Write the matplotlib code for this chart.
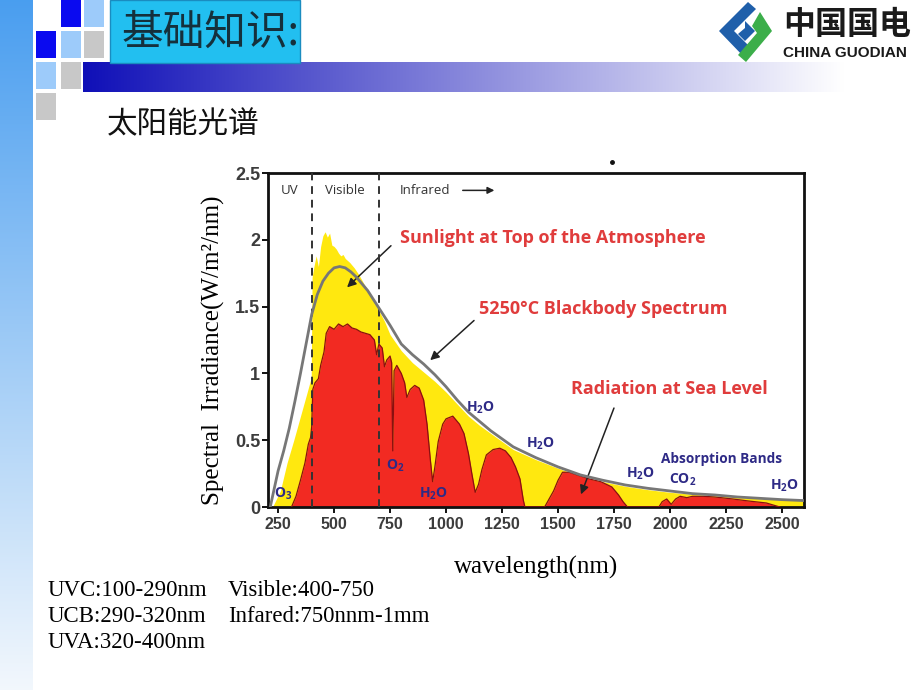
import numpy as np
import matplotlib
matplotlib.use("Agg")
import matplotlib.pyplot as plt
from matplotlib.patches import Rectangle, Polygon

plt.rcParams["mathtext.fontset"] = "custom"
plt.rcParams["mathtext.rm"] = "Open Sans:bold"
plt.rcParams["mathtext.bf"] = "Open Sans:bold"
plt.rcParams["mathtext.it"] = "Open Sans:bold"

# ── Data ─────────────────────────────────────────────────────────────
toa_wl = [225, 260, 290, 320, 350, 380, 398, 402, 410, 420, 430, 440, 450, 460,
          470, 480, 490, 500, 510, 520, 530, 540, 550, 570, 590, 610, 630, 650,
          675, 700, 725, 750, 800, 850, 900, 950, 1000, 1050, 1100, 1150, 1200,
          1250, 1300, 1400, 1500, 1600, 1700, 1800, 1900, 2000, 2100, 2200,
          2300, 2400, 2500, 2600]
toa_val = [0.0, 0.12, 0.33, 0.50, 0.68, 0.86, 0.97, 1.72, 1.80, 1.88, 1.80, 1.95,
           2.03, 2.06, 2.02, 2.05, 1.96, 1.95, 1.93, 1.90, 1.88, 1.89, 1.86,
           1.83, 1.79, 1.74, 1.68, 1.62, 1.55, 1.47, 1.39, 1.29, 1.17, 1.08,
           1.01, 0.94, 0.86, 0.77, 0.68, 0.61, 0.55, 0.49, 0.43, 0.355, 0.29,
           0.23, 0.19, 0.155, 0.13, 0.11, 0.095, 0.085, 0.072, 0.062, 0.053, 0.046]

sea_wl = [310, 330, 350, 370, 385, 395, 400, 405, 415, 430, 440, 455, 465, 480,
          500, 520, 540, 560, 580, 600, 620, 640, 660, 680, 690, 700, 715, 725,
          735, 750, 757, 762, 768, 780, 800, 815, 825, 840, 860, 880, 900, 915,
          930, 940, 950, 965, 985, 1000, 1030, 1060, 1080, 1100, 1115, 1130,
          1145, 1160, 1180, 1210, 1240, 1265, 1290, 1310, 1330, 1345, 1352,
          1440, 1460, 1480, 1500, 1520, 1550, 1585, 1640, 1690, 1740, 1770,
          1790, 1810, 1950, 1965, 1985, 2005, 2025, 2045, 2075, 2100, 2150,
          2200, 2280, 2350, 2430, 2490]
sea_val = [0.0, 0.08, 0.20, 0.33, 0.47, 0.52, 0.60, 0.88, 0.93, 0.96, 1.06, 1.16,
           1.30, 1.35, 1.33, 1.37, 1.35, 1.37, 1.34, 1.33, 1.31, 1.30, 1.29,
           1.25, 1.14, 1.22, 1.19, 1.05, 1.10, 1.13, 1.08, 0.42, 1.02, 1.06,
           1.00, 0.93, 0.82, 0.88, 0.91, 0.89, 0.80, 0.62, 0.35, 0.19, 0.30,
           0.49, 0.62, 0.66, 0.68, 0.62, 0.55, 0.40, 0.25, 0.11, 0.17, 0.28,
           0.39, 0.43, 0.44, 0.42, 0.37, 0.30, 0.21, 0.05, 0.0, 0.0, 0.06,
           0.12, 0.20, 0.26, 0.26, 0.24, 0.21, 0.19, 0.15, 0.09, 0.04, 0.0,
           0.0, 0.04, 0.06, 0.02, 0.06, 0.08, 0.07, 0.08, 0.08, 0.075, 0.06,
           0.045, 0.03, 0.0]

bb_wl = [215, 250, 275, 300, 325, 350, 375, 400, 425, 450, 475, 500, 525, 550,
         575, 600, 650, 700, 750, 800, 850, 900, 950, 1000, 1050, 1100, 1150,
         1200, 1250, 1300, 1400, 1500, 1600, 1700, 1800, 1900, 2000, 2100,
         2200, 2300, 2400, 2500, 2600]
bb_val = [0.0, 0.27, 0.42, 0.59, 0.79, 1.00, 1.22, 1.44, 1.59, 1.69, 1.75, 1.79,
          1.80, 1.79, 1.76, 1.72, 1.62, 1.49, 1.36, 1.22, 1.14, 1.07, 0.99,
          0.90, 0.80, 0.71, 0.64, 0.57, 0.51, 0.45, 0.37, 0.30, 0.24, 0.20,
          0.165, 0.14, 0.12, 0.10, 0.09, 0.075, 0.065, 0.055, 0.048]

region_edges = [400, 700]
x_ticks = [250, 500, 750, 1000, 1250, 1500, 1750, 2000, 2250, 2500]
y_ticks = [0, 0.5, 1, 1.5, 2, 2.5]
y_tick_labels = ["0", "0.5", "1", "1.5", "2", "2.5"]

notes_left = ["UVC:100-290nm", "UCB:290-320nm", "UVA:320-400nm"]
notes_right = ["Visible:400-750", "Infared:750nnm-1mm"]

# ── Figure and slide background ──────────────────────────────────────
fig = plt.figure(figsize=(9.2, 6.9), dpi=100)
bg = fig.add_axes([0, 0, 1, 1], zorder=0)
bg.set_xlim(0, 920)
bg.set_ylim(690, 0)
bg.axis("off")

# left vertical gradient band
top_c = np.array([0.29, 0.62, 0.94])
bot_c = np.array([0.95, 0.97, 0.99])
t = np.linspace(0, 1, 256)[:, None]
band = (top_c * (1 - t) + bot_c * t)[:, None, :]
bg.imshow(band, extent=(0, 33, 690, 0), aspect="auto", interpolation="bilinear")

# horizontal gradient bar under the title
s = np.clip(np.linspace(0, 1.1, 512), 0, 1)[None, :, None]
dark = np.array([0.06, 0.06, 0.72])
bar = dark * (1 - s) + np.array([1.0, 1.0, 1.0]) * s
bg.imshow(bar, extent=(83, 920, 92, 62), aspect="auto", interpolation="bilinear")

# decorative squares
sq_dark, sq_light, sq_grey = "#0a0af0", "#9dcbfa", "#c8c8c8"
squares = [(61, 0, sq_dark), (84, 0, sq_light),
           (36, 31, sq_dark), (61, 31, sq_light), (84, 31, sq_grey),
           (36, 62, sq_light), (61, 62, sq_grey),
           (36, 93, sq_grey)]
for sx, sy, sc in squares:
    bg.add_patch(Rectangle((sx, sy), 20, 27, fc=sc, ec="none"))

# title box
title_box = Rectangle((110, 0), 190, 63, fc="#22bff0", ec="#1a8cc0", lw=1)
bg.add_patch(title_box)
title = bg.text(122, 33, "基础知识:", fontsize=30, va="center", ha="left",
                color="#15303c", family=["Noto Sans CJK SC", "DejaVu Sans"])
title.set_clip_path(title_box)

bg.text(107, 125, "太阳能光谱", fontsize=22, va="center", ha="left",
        color="#111111", family=["Noto Sans CJK SC", "DejaVu Sans"])

# logo
bg.add_patch(Polygon([(748, 2), (719, 31), (745, 58), (753, 50), (734, 31),
                      (756, 9)], closed=True, fc="#1f5faa", ec="none"))
bg.add_patch(Polygon([(745, 21), (755, 31), (745, 41), (738, 34), (745, 28)],
                     closed=True, fc="#1f5faa", ec="none"))
bg.add_patch(Polygon([(760, 12), (772, 31), (746, 62), (738, 55), (757, 33),
                      (752, 26)], closed=True, fc="#3cae4a", ec="none"))
bg.text(783, 25, "中国国电", fontsize=23, weight="bold", va="center", ha="left",
        color="#1a1a1a", family=["Noto Sans CJK SC", "DejaVu Sans"])
bg.text(783, 53, "CHINA GUODIAN", fontsize=11, weight="bold", va="center",
        ha="left", color="#1a1a1a", family="Liberation Sans")

# stray dot on the slide
bg.plot([612], [162], marker="o", ms=2.5, color="#111111")

# axis titles and notes
serif = "Liberation Serif"
bg.text(536, 567, "wavelength(nm)", fontsize=18, ha="center", va="center",
        family=serif)
bg.text(213, 350, "Spectral  Irradiance(W/m²/nm)", fontsize=18, rotation=90,
        ha="center", va="center", family=serif)
for i, line in enumerate(notes_left):
    bg.text(48, 590 + i * 26.5, line, fontsize=16.5, va="center", family=serif)
for i, line in enumerate(notes_right):
    bg.text(228, 590 + i * 26.5, line, fontsize=16.5, va="center", family=serif)

# ── Spectrum chart ───────────────────────────────────────────────────
ax = fig.add_axes([268 / 920, 1 - 507 / 690, 536 / 920, 334 / 690], zorder=1)
ax.set_xlim(205, 2598)
ax.set_ylim(0, 2.5)

ax.fill_between(toa_wl, toa_val, color="#ffe80f", lw=0, zorder=1)
ax.fill_between(sea_wl, sea_val, color="#f22a22", lw=0, zorder=2)
ax.plot(sea_wl, sea_val, color="#8a1010", lw=0.9, zorder=3)
for edge in region_edges:
    ax.axvline(edge, color="#333333", lw=1.4, ls=(0, (4, 3)), zorder=4)
ax.plot(bb_wl, bb_val, color="#777777", lw=2, zorder=5)

ax.set_xticks(x_ticks)
ax.set_yticks(y_ticks)
ax.set_yticklabels(y_tick_labels)
ax.tick_params(direction="out", length=4, width=1.4, colors="#111111",
               labelcolor="#3c3c3c")
ax.tick_params(axis="x", labelsize=11.5)
ax.tick_params(axis="y", labelsize=13, pad=1.5)
for lab in ax.get_xticklabels() + ax.get_yticklabels():
    lab.set_family("Liberation Sans")
    lab.set_fontweight("bold")
for sp in ax.spines.values():
    sp.set_linewidth(2)
    sp.set_color("#111111")

sans = ["Open Sans", "DejaVu Sans"]
red = "#e03c3c"
navy = "#2e2a86"
region_kw = dict(fontsize=9.5, color="#333333", va="center", family=sans)
ax.text(303, 2.37, "UV", ha="center", **region_kw)
ax.text(549, 2.37, "Visible", ha="center", **region_kw)
ax.text(795, 2.37, "Infrared", ha="left", **region_kw)
ax.annotate("", xy=(1228, 2.37), xytext=(1062, 2.37),
            arrowprops=dict(arrowstyle="-|>", color="#222222", lw=1.1,
                            mutation_scale=10))

arrow_kw = dict(arrowstyle="-|>", color="#222222", lw=1.1, mutation_scale=13)
label_kw = dict(fontsize=13, weight="bold", color=red, va="center",
                ha="left", family=sans)
ax.text(795, 2.01, "Sunlight at Top of the Atmosphere", **label_kw)
ax.annotate("", xy=(549, 1.63), xytext=(763, 1.97), arrowprops=arrow_kw)
ax.text(1147, 1.48, "5250°C Blackbody Spectrum", **label_kw)
ax.annotate("", xy=(920, 1.085), xytext=(1134, 1.41), arrowprops=arrow_kw)
ax.text(1558, 0.88, "Radiation at Sea Level", **label_kw)
ax.annotate("", xy=(1598, 0.075), xytext=(1754, 0.76), arrowprops=arrow_kw)

gas_kw = dict(fontsize=10, weight="bold", color=navy, ha="center",
              va="center", family=sans, zorder=6)
h2o = r"H$_\mathbf{2}$O"
for gx, gy in [(1152, 0.74), (1420, 0.47), (1866, 0.25), (2513, 0.157),
               (942, 0.097)]:
    ax.text(gx, gy, h2o, **gas_kw)
ax.text(772, 0.31, r"O$_\mathbf{2}$", **gas_kw)
ax.text(272, 0.097, r"O$_\mathbf{3}$", **gas_kw)
ax.text(2054, 0.20, r"CO$_\mathbf{2}$", **gas_kw)
ax.text(1960, 0.36, "Absorption Bands", fontsize=9.8, weight="bold",
        color=navy, ha="left", va="center", family=sans)

fig.savefig("out.png", dpi=100)
